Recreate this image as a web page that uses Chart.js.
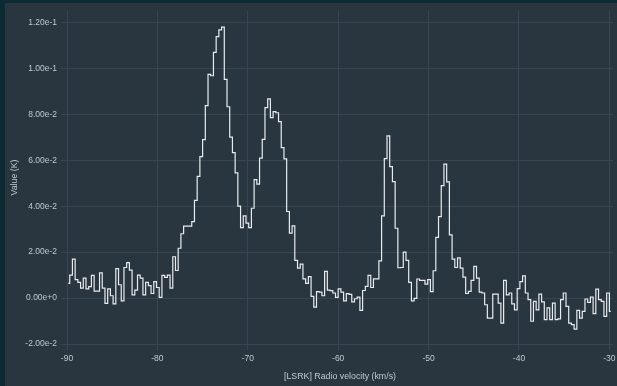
<!DOCTYPE html>
<html>
<head>
<meta charset="utf-8">
<script src="https://cdn.jsdelivr.net/npm/chart.js@4"></script>
<style>
  html, body { margin: 0; padding: 0; background: #0c2a33; }
  #wrap { position: absolute; left: 0; top: 0; width: 617px; height: 386px; }
</style>
</head>
<body>
<div id="wrap"><canvas id="c" width="617" height="386"></canvas></div>
<script>
// Spectrum: channel velocities (km/s) start at firstChannel, spaced channelWidth
const firstChannel = -89.85;
const channelWidth = 0.3;
const xTicks = [-90, -80, -70, -60, -50, -40, -30];
const yTicks = [-0.02, 0, 0.02, 0.04, 0.06, 0.08, 0.10, 0.12];
const brightness = [
  0.0064, 0.010, 0.017, 0.008, 0.0068, 0.0043, 0.0087, 0.004, 0.005, 0.0099,
  0.003, 0.003, 0.011, 0.0043, -0.0023, 0.004, 0.001, -0.0025, 0.0128, 0.0058,
  -0.0012, 0.0133, 0.0154, 0.0122, 0.0014, 0.0035, 0.010, 0.0087, 0.0014, 0.0068,
  0.0054, 0.002, 0.0072, 0.0046, 0.0003, 0.0099, 0.009, 0.010, 0.0043, 0.018,
  0.012, 0.0217, 0.028, 0.0313, 0.0313, 0.0313, 0.0333, 0.0425, 0.053, 0.0616,
  0.069, 0.0838, 0.0974, 0.0968, 0.107, 0.1138, 0.1168, 0.118, 0.0952, 0.0833,
  0.0701, 0.0633, 0.0545, 0.040, 0.0307, 0.0358, 0.0326, 0.0307, 0.0391, 0.0516,
  0.0496, 0.0609, 0.0691, 0.0829, 0.0867, 0.0786, 0.0812, 0.0807, 0.0768, 0.0655,
  0.0606, 0.0377, 0.0283, 0.0314, 0.0164, 0.013, 0.0148, 0.0084, 0.0064, 0.0093,
  0.0007, -0.0039, 0.0028, 0.0026, 0.001, 0.0116, 0.0035, 0.0032, 0.0022, 0.0003,
  0.004, 0.0026, -0.0012, 0.0019, 0.0016, -0.0017, -0.0003, 0.0004, -0.0054, 0.0033,
  0.0051, 0.0099, 0.0046, 0.0084, 0.0084, 0.0162, 0.0358, 0.0607, 0.0706, 0.0572,
  0.0507, 0.0304, 0.0132, 0.0133, 0.020, 0.0164, 0.0068, -0.0012, -0.0001, 0.0083,
  0.0077, 0.0077, 0.0061, 0.008, 0.0028, 0.0119, 0.0264, 0.0355, 0.049, 0.0583,
  0.0506, 0.0275, 0.017, 0.0133, 0.0175, 0.013, 0.0091, 0.002, 0.0029, 0.0077,
  0.0138, 0.0087, 0.0026, 0.0022, -0.0029, -0.0087, -0.0087, 0.0017, 0.0017, -0.0022,
  -0.0109, 0.0077, 0.0014, 0.0022, -0.0025, -0.0051, 0.0041, 0.0072, 0.0097, 0.0022,
  -0.0007, -0.0101, -0.0014, -0.0051, 0.0017, -0.0017, -0.0094, -0.0043, -0.0094, -0.0022,
  -0.0094, -0.0091, -0.0007, 0.0022, -0.0036, -0.0109, -0.0116, -0.0135, -0.0054, -0.0087,
  -0.0058, -0.0004, -0.0019, 0.0004, -0.0068, 0.0039, -0.0007, -0.0014, -0.008, 0.0022,
  -0.0058
];

const points = brightness.map((y, i) => ({ x: firstChannel + i * channelWidth, y }));

const frameBg = {
  id: 'frameBg',
  beforeDraw(chart) {
    const ctx = chart.ctx;
    ctx.save();
    ctx.fillStyle = '#0c2a33';
    ctx.fillRect(0, 0, chart.width, chart.height);
    ctx.fillStyle = '#29353f';
    ctx.fillRect(5, 3, chart.width - 5, chart.height - 3);
    ctx.restore();
  }
};

const gridColor = '#394652';
const textColor = '#c2c9d0';
const fontFamily = '"Liberation Sans", Arial, sans-serif';

new Chart(document.getElementById('c'), {
  type: 'line',
  data: {
    datasets: [{
      data: points,
      borderColor: '#e9ecef',
      borderWidth: 1.2,
      pointRadius: 0,
      stepped: 'middle',
      fill: false
    }]
  },
  options: {
    responsive: false,
    animation: false,
    events: [],
    layout: { padding: { top: 11, left: 5, right: 4, bottom: 0 } },
    plugins: { legend: { display: false }, tooltip: { enabled: false } },
    scales: {
      x: {
        type: 'linear',
        min: -90,
        max: -29.6,
        afterFit(s) { s.height = 42; s.paddingLeft = 0; s.paddingRight = 0; },
        afterBuildTicks(s) { s.ticks = xTicks.map(v => ({ value: v })); },
        grid: { color: gridColor, tickLength: 6, drawTicks: true },
        border: { display: false },
        ticks: {
          color: textColor, font: { family: fontFamily, size: 8.5 },
          padding: 4, maxRotation: 0, includeBounds: false,
          callback: v => String(v)
        },
        title: {
          display: true, text: '[LSRK] Radio velocity (km/s)',
          color: textColor, font: { family: fontFamily, size: 8.8 },
          padding: { top: 4, bottom: 4 }
        }
      },
      y: {
        type: 'linear',
        min: -0.02,
        max: 0.125,
        afterFit(s) { s.width = 62; s.paddingTop = 0; s.paddingBottom = 0; },
        afterBuildTicks(s) { s.ticks = yTicks.map(v => ({ value: v })); },
        grid: { color: gridColor, tickLength: 6 },
        border: { display: false },
        ticks: {
          color: textColor, font: { family: fontFamily, size: 8.5 },
          padding: 4, includeBounds: false,
          callback: v => Number(v).toExponential(2)
        },
        title: {
          display: true, text: 'Value (K)',
          color: textColor, font: { family: fontFamily, size: 8.8 },
          padding: { top: 4, bottom: 0 }
        }
      }
    }
  },
  plugins: [frameBg]
});
</script>
</body>
</html>
